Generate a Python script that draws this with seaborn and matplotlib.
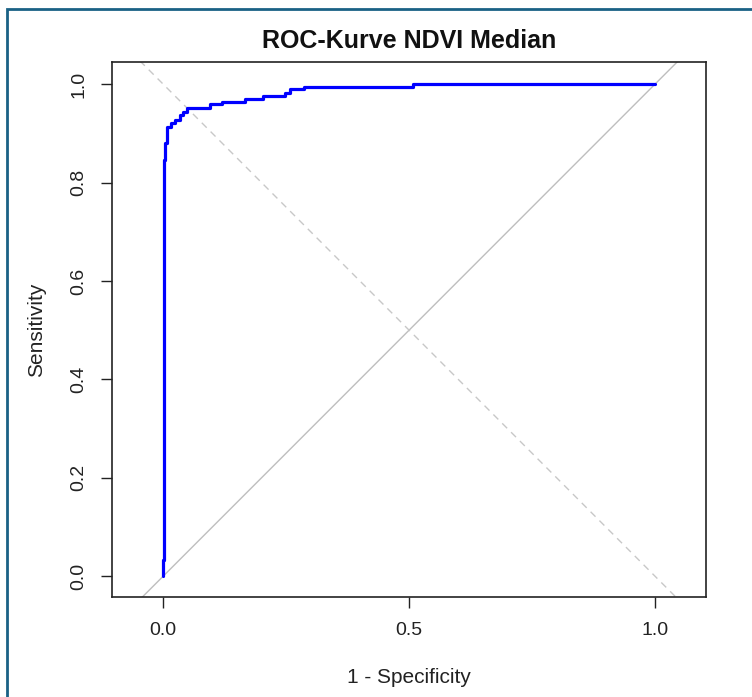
import numpy as np
import pandas as pd
import seaborn as sns
import matplotlib.pyplot as plt
from matplotlib.patches import Rectangle

# ROC curve corner points (1 - specificity, sensitivity)
fpr = [0.0, 0.0, 0.002, 0.002, 0.004, 0.004, 0.0075, 0.0075, 0.015, 0.015,
       0.024, 0.024, 0.035, 0.035, 0.041, 0.041, 0.049, 0.049, 0.096, 0.096,
       0.119, 0.119, 0.167, 0.167, 0.203, 0.203, 0.248, 0.248, 0.258, 0.258,
       0.287, 0.287, 0.508, 0.508, 1.0]
tpr = [0.0, 0.033, 0.033, 0.846, 0.846, 0.880, 0.880, 0.913, 0.913, 0.921,
       0.921, 0.927, 0.927, 0.937, 0.937, 0.944, 0.944, 0.951, 0.951, 0.959,
       0.959, 0.963, 0.963, 0.969, 0.969, 0.976, 0.976, 0.982, 0.982, 0.990,
       0.990, 0.995, 0.995, 1.0, 1.0]

x_ticks = [0.0, 0.5, 1.0]
y_ticks = [0.0, 0.2, 0.4, 0.6, 0.8, 1.0]

df = pd.DataFrame({"fpr": fpr, "tpr": tpr})

sns.set_style("ticks")
plt.rcParams["font.family"] = ["Liberation Sans", "DejaVu Sans"]

fig = plt.figure(figsize=(7.52, 6.97), dpi=100)
ax = fig.add_axes([0.149, 0.143, 0.790, 0.768])

# reference lines
lims = np.array([-0.2, 1.2])
ax.plot(lims, lims, color="#bebebe", lw=1, zorder=1)
ax.plot(lims, 1 - lims, color="#c8c8c8", lw=1, ls=(0, (5, 4)), zorder=1)

sns.lineplot(data=df, x="fpr", y="tpr", sort=False, estimator=None,
             color="#0000ff", lw=2.3, ax=ax, zorder=3)

ax.set_xlim(-0.104, 1.104)
ax.set_ylim(-0.043, 1.045)
ax.set_xticks(x_ticks)
ax.set_xticklabels([f"{v:.1f}" for v in x_ticks])
ax.set_yticks(y_ticks)
ax.set_yticklabels([f"{v:.1f}" for v in y_ticks], rotation=90, va="center")
ax.tick_params(direction="out", length=8, width=1, labelsize=14, pad=10,
               colors="#222222")
for s in ax.spines.values():
    s.set_linewidth(1.2)
    s.set_color("#222222")

ax.set_xlabel("1 - Specificity", fontsize=15, labelpad=21, color="#222222")
ax.set_ylabel("Sensitivity", fontsize=15, labelpad=17, color="#222222")
ax.set_title("ROC-Kurve NDVI Median", fontsize=18, fontweight="bold", pad=10,
             color="#111111")

# screenshot frame
fig.patches.append(Rectangle((7 / 752, -0.05), 1.2, (697 - 9) / 697 + 0.05,
                             transform=fig.transFigure, fill=False,
                             edgecolor="#1a6185", lw=2))

fig.savefig("out.png", dpi=100)
